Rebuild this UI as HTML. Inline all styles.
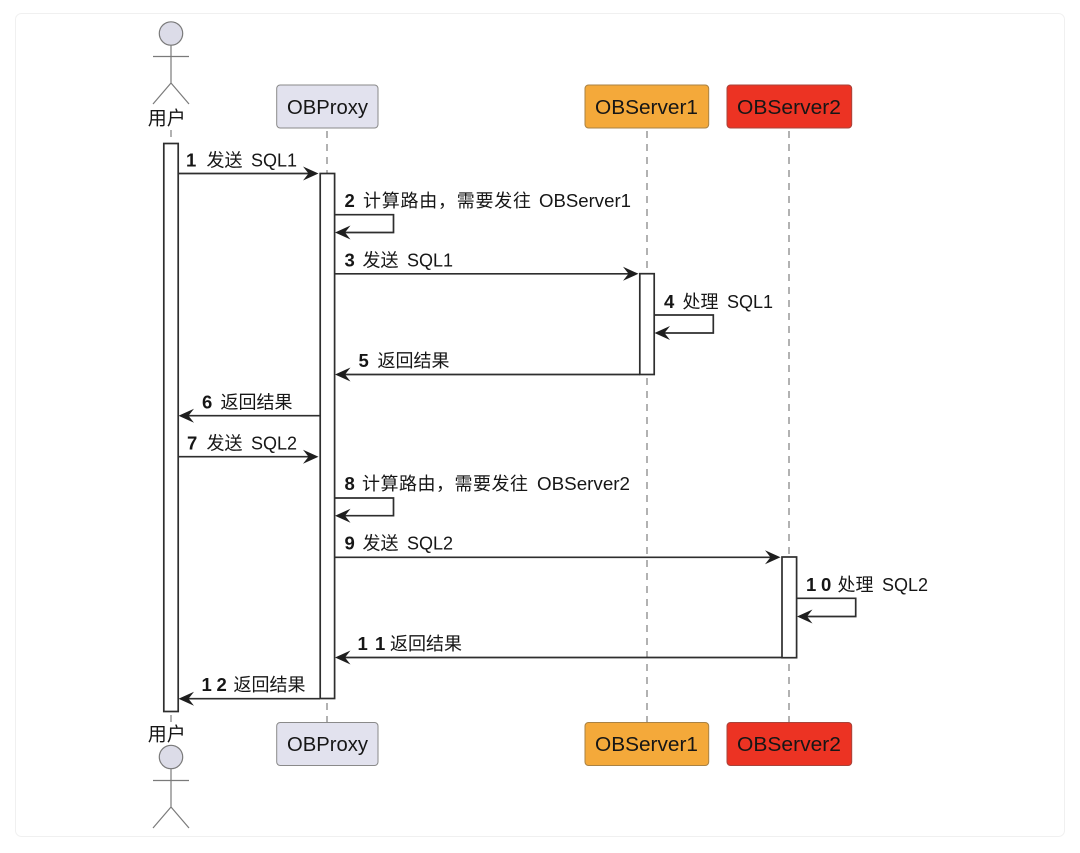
<!DOCTYPE html>
<html lang="zh">
<head>
<meta charset="utf-8">
<style>
html,body{margin:0;padding:0;background:#fff;width:1080px;height:853px;overflow:hidden}
svg{display:block;filter:blur(0.35px)}
text{font-family:"Liberation Sans","Noto Sans CJK SC",sans-serif;fill:#161616}
.m{font-size:18px;word-spacing:3.5px}
.b{font-size:20.5px}
.n{font-weight:bold;font-size:18.5px}
.life{stroke:#888;stroke-width:1.3;stroke-dasharray:7 6;fill:none}
.ln{stroke:#2e2e2e;stroke-width:1.7;fill:none}
.act{fill:#fff;stroke:#2e2e2e;stroke-width:1.7}
.ah{fill:#1e1e1e;stroke:none}
.actor{stroke:#7a7a7a;stroke-width:1.2;fill:none}
</style>
</head>
<body>
<svg width="1080" height="853" viewBox="0 0 1080 853" xmlns="http://www.w3.org/2000/svg">
<defs>
<path id="ar" class="ah" d="M0 0 L-15.5 -7 L-10 0 L-15.5 7 Z"/>
<path id="al" class="ah" d="M0 0 L15.5 -7 L10 0 L15.5 7 Z"/>
</defs>
<rect x="15.5" y="13.5" width="1049" height="823" rx="6" fill="#fff" stroke="#f0f0f0"/>

<!-- lifelines -->
<line class="life" x1="171" y1="130" x2="171" y2="722"/>
<line class="life" x1="327" y1="131" x2="327" y2="722"/>
<line class="life" x1="647" y1="131" x2="647" y2="722"/>
<line class="life" x1="789" y1="131" x2="789" y2="722"/>

<!-- actors -->
<g class="actor">
<circle cx="171" cy="33.5" r="11.7" fill="#dcdce8"/>
<path d="M171 45V83M153 56.5H189M171 83L153 104M171 83L189 104"/>
<circle cx="171" cy="757" r="11.7" fill="#dcdce8"/>
<path d="M171 769V807M153 780.5H189M171 807L153 828M171 807L189 828"/>
</g>
<text x="166.8" y="124.5" text-anchor="middle" style="font-size:19px">用户</text>
<text x="166.8" y="740.5" text-anchor="middle" style="font-size:19px">用户</text>

<!-- participants -->
<g stroke="#8a8a8a" stroke-width="1">
<rect x="276.7" y="85" width="101.3" height="43" rx="3.5" fill="#e2e2ee"/>
<rect x="585" y="85" width="123.7" height="43" rx="3.5" fill="#f4a93a" stroke="#a98244"/>
<rect x="727" y="85" width="124.7" height="43" rx="3.5" fill="#ec3323" stroke="#a8433a"/>
<rect x="276.7" y="722.5" width="101.3" height="43" rx="3.5" fill="#e2e2ee"/>
<rect x="585" y="722.5" width="123.7" height="43" rx="3.5" fill="#f4a93a" stroke="#a98244"/>
<rect x="727" y="722.5" width="124.7" height="43" rx="3.5" fill="#ec3323" stroke="#a8433a"/>
</g>
<text x="287" y="114" class="b" textLength="81" lengthAdjust="spacingAndGlyphs">OBProxy</text>
<text x="595" y="114" class="b" textLength="103" lengthAdjust="spacingAndGlyphs">OBServer1</text>
<text x="737" y="114" class="b" textLength="104" lengthAdjust="spacingAndGlyphs">OBServer2</text>
<text x="287" y="751" class="b" textLength="81" lengthAdjust="spacingAndGlyphs">OBProxy</text>
<text x="595" y="751" class="b" textLength="103" lengthAdjust="spacingAndGlyphs">OBServer1</text>
<text x="737" y="751" class="b" textLength="104" lengthAdjust="spacingAndGlyphs">OBServer2</text>

<!-- activations -->
<rect class="act" x="163.8" y="143.5" width="14.4" height="568"/>
<rect class="act" x="320.2" y="173.5" width="14.4" height="525"/>
<rect class="act" x="639.8" y="273.7" width="14.4" height="100.8"/>
<rect class="act" x="782" y="557" width="14.6" height="100.7"/>

<!-- messages -->
<path class="ln" d="M178.5 173.5H312"/><use href="#ar" x="318.5" y="173.5"/>
<path class="ln" d="M334.7 214.7H393.5V232.5H342"/><use href="#al" x="335" y="232.5"/>
<path class="ln" d="M334.7 273.8H632"/><use href="#ar" x="638.5" y="273.8"/>
<path class="ln" d="M654.3 315H713.3V333H662"/><use href="#al" x="654.5" y="333"/>
<path class="ln" d="M639.7 374.5H342"/><use href="#al" x="335" y="374.5"/>
<path class="ln" d="M320 415.7H186"/><use href="#al" x="178.5" y="415.7"/>
<path class="ln" d="M178.5 456.7H312"/><use href="#ar" x="318.5" y="456.7"/>
<path class="ln" d="M334.7 498H393.5V515.7H342"/><use href="#al" x="335" y="515.7"/>
<path class="ln" d="M334.7 557.3H774"/><use href="#ar" x="780.5" y="557.3"/>
<path class="ln" d="M796.7 598.3H855.7V616.5H804"/><use href="#al" x="797" y="616.5"/>
<path class="ln" d="M782 657.5H342"/><use href="#al" x="335" y="657.5"/>
<path class="ln" d="M320 698.7H186"/><use href="#al" x="178.5" y="698.7"/>

<!-- labels -->
<g class="m">
<text x="186" y="166.5" class="n">1</text><text x="206.5" y="166.5">发送 SQL1</text>
<text x="344.5" y="207" class="n">2</text><text x="363" y="207" textLength="168" style="word-spacing:0">计算路由，需要发往</text><text x="539" y="207" textLength="92" lengthAdjust="spacingAndGlyphs">OBServer1</text>
<text x="344.5" y="266.5" class="n">3</text><text x="362.5" y="266.5">发送 SQL1</text>
<text x="664" y="308" class="n">4</text><text x="682.5" y="308">处理 SQL1</text>
<text x="358.5" y="367" class="n">5</text><text x="377.5" y="367">返回结果</text>
<text x="202" y="408.5" class="n">6</text><text x="220.5" y="408.5">返回结果</text>
<text x="187" y="449.5" class="n">7</text><text x="206.5" y="449.5">发送 SQL2</text>
<text x="344.5" y="490" class="n">8</text><text x="362" y="490" textLength="166" style="word-spacing:0">计算路由，需要发往</text><text x="537" y="490" textLength="93" lengthAdjust="spacingAndGlyphs">OBServer2</text>
<text x="344.5" y="549.5" class="n">9</text><text x="362.5" y="549.5">发送 SQL2</text>
<text x="806" y="591" class="n">1</text><text x="821" y="591" class="n">0</text><text x="837.5" y="591">处理 SQL2</text>
<text x="357.5" y="650" class="n">1</text><text x="375" y="650" class="n">1</text><text x="390" y="650">返回结果</text>
<text x="201.5" y="691" class="n">1</text><text x="216.5" y="691" class="n">2</text><text x="233.5" y="691">返回结果</text>
</g>
</svg>
</body>
</html>
